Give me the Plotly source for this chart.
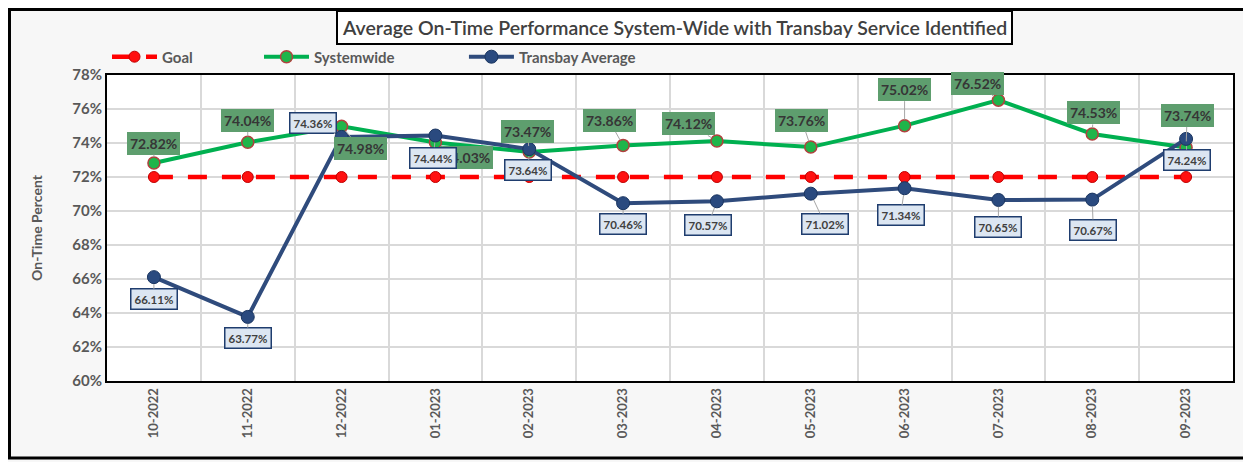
import plotly.graph_objects as go

months = ["10-2022", "11-2022", "12-2022", "01-2023", "02-2023", "03-2023",
          "04-2023", "05-2023", "06-2023", "07-2023", "08-2023", "09-2023"]
goal = [72, 72, 72, 72, 72, 72, 72, 72, 72, 72, 72, 72]
systemwide = [72.82, 74.04, 74.98, 74.03, 73.47, 73.86, 74.12, 73.76, 75.02, 76.52, 74.53, 73.74]
transbay = [66.11, 63.77, 74.36, 74.44, 73.64, 70.46, 70.57, 71.02, 71.34, 70.65, 70.67, 74.24]

# label offsets (pixels) - layout only
sys_off = [(0, -20), (0, -22), (19, 22), (31, 15), (-2, -21), (-14, -25),
           (-28, -17), (-9, -27), (0, -36), (-21, -17), (1, -21), (1, -32)]
tb_off = [(0, 22), (0, 21), (-29, -14), (-2, 22), (-1, 21), (0, 21),
          (-9, 24), (14, 30), (-4, 27), (0, 27), (1, 30), (1, 21)]

FONT = "Lato"
GRAY = "#595959"

fig = go.Figure()
fig.add_trace(go.Scatter(
    x=months, y=goal, name="Goal", mode="lines+markers",
    line=dict(color="#ff0000", width=4.5, dash="19px,15px"),
    marker=dict(color="#ff1010", size=11, line=dict(color="#c00000", width=1)),
    legend="legend"))
fig.add_trace(go.Scatter(
    x=months, y=systemwide, name="Systemwide", mode="lines+markers",
    line=dict(color="#00b050", width=4),
    marker=dict(color="#1fb54a", size=12, line=dict(color="#b0413e", width=1.5)),
    legend="legend2"))
fig.add_trace(go.Scatter(
    x=months, y=transbay, name="Transbay Average", mode="lines+markers",
    line=dict(color="#2f4b7c", width=4),
    marker=dict(color="#2a4a7f", size=13, line=dict(color="#1a3560", width=1)),
    legend="legend3"))

ann = []
for m, v, (ax, ay) in zip(months, systemwide, sys_off):
    ann.append(dict(x=m, y=v, xref="x", yref="y", text=f"{v:.2f}%",
                    showarrow=True, arrowhead=0, arrowwidth=1, arrowcolor="#a6a6a6",
                    standoff=6, ax=ax, ay=ay,
                    font=dict(family=FONT, size=14, color="#363636", weight=700),
                    bgcolor="#5e9e6e", borderpad=3, borderwidth=0))
for m, v, (ax, ay) in zip(months, transbay, tb_off):
    ann.append(dict(x=m, y=v, xref="x", yref="y", text=f"{v:.2f}%",
                    showarrow=True, arrowhead=0, arrowwidth=1, arrowcolor="#a6a6a6",
                    standoff=7, ax=ax, ay=ay,
                    font=dict(family=FONT, size=11.5, color="#404040", weight=700),
                    bgcolor="#dce6f2", bordercolor="#1f3d6e", borderwidth=1.5, borderpad=3))
ann.append(dict(x=0.504, y=1.1536, xref="paper", yref="paper", showarrow=False,
                xanchor="center", yanchor="middle",
                text="Average On-Time Performance System-Wide with Transbay Service Identified",
                font=dict(family=FONT, size=19.5, color="#404040", weight=600),
                bgcolor="white", bordercolor="black", borderwidth=2, borderpad=4))

legend_common = dict(orientation="h", yanchor="middle", xanchor="left",
                     bgcolor="rgba(0,0,0,0)", itemwidth=45,
                     font=dict(family=FONT, size=15, color=GRAY, weight=700))

# page body has an 8px default margin: the figure is sized/offset to compensate
fig.update_layout(
    width=1243, height=454,
    margin=dict(l=99, r=18, t=67, b=81, autoexpand=False),
    paper_bgcolor="#f7f7f7", plot_bgcolor="white",
    showlegend=True,
    annotations=ann,
    legend=dict(x=0.0, y=1.059, **legend_common),
    legend2=dict(x=0.135, y=1.059, **legend_common),
    legend3=dict(x=0.317, y=1.059, **legend_common),
    shapes=[dict(type="rect", xref="paper", yref="paper",
                 x0=-0.0866, x1=1.0107, y0=-0.2516, y1=1.214,
                 line=dict(color="black", width=3), fillcolor="rgba(0,0,0,0)")],
)
fig.update_xaxes(
    type="category", tickson="boundaries", tickangle=-90, automargin=False,
    range=[-0.5, len(months) - 0.5],
    showgrid=True, gridcolor="#d9d9d9", gridwidth=1.5,
    showline=True, linecolor="black", linewidth=2, mirror=True,
    ticks="", ticklen=0,
    tickfont=dict(family=FONT, size=13, color=GRAY, weight=700))
fig.update_yaxes(
    range=[60, 78], dtick=2, ticksuffix="%", automargin=False,
    showgrid=True, gridcolor="#d9d9d9", gridwidth=1.5,
    showline=True, linecolor="black", linewidth=2, mirror=True,
    zeroline=False,
    tickfont=dict(family=FONT, size=15, color=GRAY, weight=700),
    title=dict(text="On-Time Percent", standoff=26,
               font=dict(family=FONT, size=14, color=GRAY, weight=700)))

fig.write_html("out.html")
